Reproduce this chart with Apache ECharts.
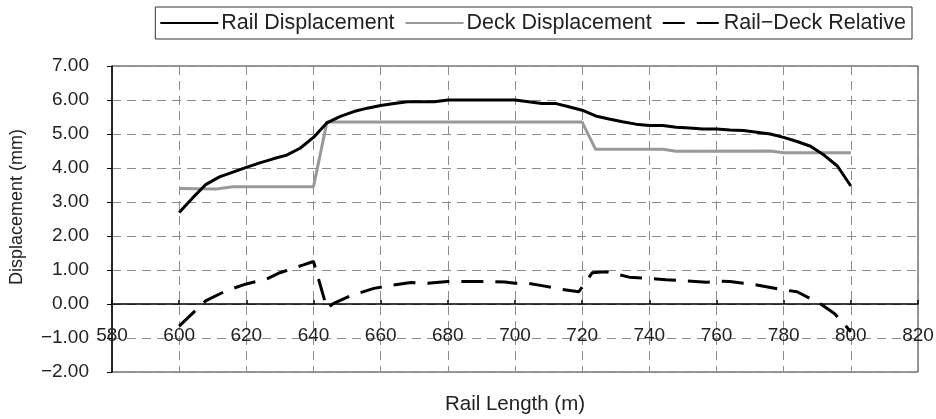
<!DOCTYPE html>
<html>
<head>
<meta charset="utf-8">
<script src="https://cdn.jsdelivr.net/npm/echarts@6/dist/echarts.min.js"></script>
<style>
html,body{margin:0;padding:0;background:#fff;}
#chart{width:936px;height:419px;}
</style>
</head>
<body>
<div id="chart"></div>
<script>
var seriesNames = ['Rail Displacement', 'Deck Displacement', 'Rail\u2212Deck Relative'];

var railX = [600,604,608,612,616,620,624,628,632,636,640,644,648,652,656,660,664,668,672,676,680,690,700,704,708,712,716,720,724,728,732,736,740,744,748,752,756,760,764,768,772,776,780,784,788,792,796,800];
var railY = [2.69,3.12,3.52,3.74,3.88,4.02,4.15,4.27,4.38,4.58,4.90,5.33,5.52,5.66,5.76,5.84,5.90,5.95,5.95,5.95,6.00,6.00,6.00,5.95,5.90,5.90,5.80,5.70,5.53,5.44,5.36,5.29,5.25,5.25,5.20,5.18,5.15,5.15,5.12,5.10,5.05,5.00,4.90,4.78,4.64,4.38,4.06,3.47];

var deckX = [600,611,616,640,644,720,724,744,748,776,780,800];
var deckY = [3.40,3.38,3.45,3.45,5.35,5.35,4.55,4.55,4.49,4.50,4.45,4.45];

var relX = [600,605,608,614,620,626,630,637,640,644,646,651,658,662,669,674,680,692,697,700,704,708,714,719,723,727,734,738,743,745,750,757,761,764,768,772,779,784,791,795,797,800];
var relY = [-0.65,-0.18,0.10,0.39,0.59,0.73,0.92,1.15,1.25,-0.13,0.02,0.24,0.46,0.53,0.63,0.61,0.66,0.66,0.65,0.61,0.61,0.54,0.43,0.36,0.92,0.95,0.79,0.76,0.73,0.71,0.69,0.64,0.67,0.66,0.61,0.56,0.43,0.36,0.00,-0.27,-0.47,-0.82];

function pairs(xs, ys) { return xs.map(function (x, i) { return [x, ys[i]]; }); }

var FONT = 'Liberation Sans';
var chart = echarts.init(document.getElementById('chart'), null, {renderer: 'canvas'});
chart.setOption({
  animation: false,
  backgroundColor: '#fff',
  textStyle: {fontFamily: FONT},
  legend: {
    right: 24, top: 7,
    padding: [5, 6, 5, 4],
    borderColor: '#333', borderWidth: 1,
    itemWidth: 58, itemHeight: 10, itemGap: 10,
    itemStyle: {opacity: 0},
    textStyle: {fontFamily: FONT, fontSize: 21.5, color: '#222', padding: [0, 0, 0, -2]},
    data: seriesNames
  },
  grid: {
    left: 112, right: 18, top: 66, bottom: 47,
    containLabel: false, outerBoundsMode: 'none',
    show: true, borderColor: '#333', borderWidth: 1, backgroundColor: 'transparent'
  },
  xAxis: {
    type: 'value', min: 580, max: 820, interval: 20,
    offset: -68,
    name: 'Rail Length (m)', nameLocation: 'middle', nameGap: 90,
    nameTextStyle: {fontFamily: FONT, fontSize: 20.5, color: '#222'},
    axisLine: {onZero: false, lineStyle: {color: '#000', width: 1.5}},
    axisTick: {show: true, inside: true, length: 4, lineStyle: {color: '#000', width: 1.5}},
    axisLabel: {margin: 22, fontFamily: FONT, fontSize: 19, color: '#222'},
    splitLine: {show: true, lineStyle: {color: '#8c8c8c', width: 1, type: [9, 6]}}
  },
  yAxis: {
    type: 'value', min: -2, max: 7, interval: 1,
    name: 'Displacement (mm)', nameLocation: 'middle', nameGap: 86,
    nameTextStyle: {fontFamily: FONT, fontSize: 18, color: '#222', padding: [0, 0, 0, 24]},
    axisLine: {show: true, onZero: false, lineStyle: {color: '#000', width: 1.5}},
    axisTick: {show: true, inside: false, length: 5, lineStyle: {color: '#000', width: 1}},
    axisLabel: {
      margin: 23, fontFamily: FONT, fontSize: 19, color: '#222',
      formatter: function (v) { return v.toFixed(2).replace('-', '\u2212'); }
    },
    splitLine: {show: true, lineStyle: {color: '#8c8c8c', width: 1, type: [9, 6]}}
  },
  series: [
    {
      name: seriesNames[0], type: 'line', data: pairs(railX, railY),
      symbol: 'none', smooth: false,
      lineStyle: {color: '#000', width: 3}, itemStyle: {color: '#000'}, z: 3
    },
    {
      name: seriesNames[1], type: 'line', data: pairs(deckX, deckY),
      symbol: 'none',
      lineStyle: {color: '#999', width: 3}, itemStyle: {color: '#999'}, z: 2
    },
    {
      name: seriesNames[2], type: 'line', data: pairs(relX, relY),
      symbol: 'none',
      lineStyle: {color: '#000', width: 3, type: [22, 12]}, itemStyle: {color: '#000'}, z: 4
    }
  ]
});
</script>
</body>
</html>
